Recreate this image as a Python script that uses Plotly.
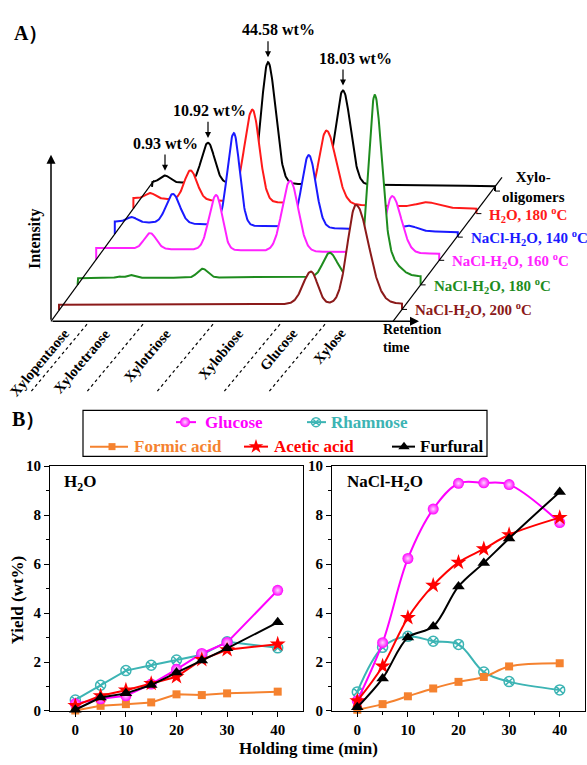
import numpy as np
import plotly.graph_objects as go

# ---------------- Panel A data: HPLC records (back -> front) ----------------
A_SAMPLES = ["Xylo-<br>oligomers",
             "H<sub>2</sub>O, 180 <sup>o</sup>C",
             "NaCl-H<sub>2</sub>O, 140 <sup>o</sup>C",
             "NaCl-H<sub>2</sub>O, 160 <sup>o</sup>C",
             "NaCl-H<sub>2</sub>O, 180 <sup>o</sup>C",
             "NaCl-H<sub>2</sub>O, 200 <sup>o</sup>C"]
A_RT_SPAN = 343                                  # retention span (a.u.)
A_BASE_DRIFT = [-4, -11, -11, -6, 2, 1]          # baseline change over the record
A_PEAK_RT = [[13, 56, 116, 191],
             [17, 57, 119, 193, 294],
             [17, 58, 119, 194, 294],
             [54, 120, 194, 296],
             [41, 53, 125, 252, 297, 312],
             [252, 297]]
A_PEAK_H = [[7, 41, 124, 96],
            [5.5, 30, 94, 75, 5],
            [5, 30, 94, 74, 5],
            [16, 56, 72, 58],
            [1.5, 3, 9, 24.5, 180, 16],
            [33, 101]]
A_PEAK_WL = [[5, 6.5, 6.6, 7.5],
             [5, 6, 8, 7.5, 10],
             [5, 6.7, 6.3, 7, 7],
             [6, 7, 8, 7],
             [3, 4, 5, 6.5, 6.5, 10],
             [8, 8.5]]
A_PEAK_WR = [[5, 6.5, 7.5, 7.5],
             [5, 6.5, 7, 9.5, 10],
             [5, 6.9, 5.8, 7, 8],
             [6, 6, 8, 9],
             [3, 4, 5, 7.5, 7, 10],
             [6.5, 12.5]]
A_WT_LABELS = ["0.93 wt%", "10.92 wt%", "44.58 wt%", "18.03 wt%"]   # peaks of xylo-oligomers
A_COMPOUNDS = ["Xylopentaose", "Xylotetraose", "Xylotriose", "Xylobiose", "Glucose", "Xylose"]

# ---------------- Panel B data ----------------
B_TIME = [0, 5, 10, 15, 20, 25, 30, 40]
B_SERIES = ["Glucose", "Rhamnose", "Formic acid", "Acetic acid", "Furfural"]
H2O_GLUCOSE = [0.3, 0.5, 0.62, 1.1, 1.7, 2.35, 2.8, 4.93]
H2O_RHAMNOSE = [0.45, 1.05, 1.65, 1.87, 2.08, 2.3, 2.83, 2.58]
H2O_FORMIC = [0.02, 0.21, 0.28, 0.35, 0.68, 0.65, 0.72, 0.79]
H2O_ACETIC = [0.22, 0.62, 0.85, 1.12, 1.4, 2.1, 2.5, 2.73]
H2O_FURFURAL = [0.05, 0.55, 0.72, 1.06, 1.57, 2.06, 2.56, 3.62]
NACL_GLUCOSE = [0.42, 2.79, 6.23, 8.25, 9.3, 9.32, 9.25, 7.7]
NACL_RHAMNOSE = [0.78, 2.6, 3.05, 2.85, 2.72, 1.59, 1.2, 0.86]
NACL_FORMIC = [0.05, 0.28, 0.6, 0.92, 1.19, 1.39, 1.82, 1.95]
NACL_ACETIC = [0.41, 1.83, 3.81, 5.13, 6.07, 6.62, 7.2, 7.9]
NACL_FURFURAL = [0.15, 1.33, 3.0, 3.45, 5.09, 6.05, 7.05, 8.95]

# ---------------- styles / layout constants ----------------
W, H = 587, 765
SERIF = "Liberation Serif, Times New Roman, serif"
A_COLORS = ["#000000", "#ff1a1a", "#1a1aff", "#ff22ff", "#1e8c1e", "#8b1a1a"]
A_X0 = [152 - 18.6 * k for k in range(6)]
A_Y0 = [178, 194, 218, 245, 276, 303]
AXIS_Y = 320
B_COLORS = {"Glucose": "#ff00ff", "Rhamnose": "#3cb4b4", "Formic acid": "#f5822f",
            "Acetic acid": "#ff0000", "Furfural": "#000000"}
B_SYMBOLS = {"Glucose": "circle", "Rhamnose": "circle-x-open", "Formic acid": "square",
             "Acetic acid": "star", "Furfural": "triangle-up"}
B_SIZES = {"Glucose": 11, "Rhamnose": 10, "Formic acid": 8, "Acetic acid": 12, "Furfural": 11}


def bold(size, color="black"):
    return dict(family=SERIF, size=size, color=color, weight="bold")


def signal(k, r):
    r = np.asarray(r, dtype=float)
    out = A_BASE_DRIFT[k] * r / A_RT_SPAN
    for c, h, wl, wr in zip(A_PEAK_RT[k], A_PEAK_H[k], A_PEAK_WL[k], A_PEAK_WR[k]):
        w = np.where(r < c, wl, wr)
        out = out + h * np.exp(-0.5 * ((r - c) / w) ** 2)
    return out


def ldiag(x):
    return AXIS_Y - (x - 51) * 144 / 103


def rdiag(x):
    return AXIS_Y - (x - 393) * 147 / 109


fig = go.Figure()
shapes = []
ann = []

# ---------------- Panel A ----------------
rt = np.arange(0, A_RT_SPAN + 0.25, 0.5)
ends = []
for k in range(6):
    xs = A_X0[k] + rt
    ys = A_Y0[k] - signal(k, rt)
    y_start = max(ldiag(xs[0]), ys[0] + 5)
    y_end = max(rdiag(xs[-1]), ys[-1] + 5)
    ends.append((xs[-1], y_end))
    px = np.concatenate([[xs[0]], xs, [xs[-1]]])
    py = np.concatenate([[y_start], ys, [y_end]])
    fig.add_trace(go.Scatter(x=np.concatenate([px, [xs[-1], xs[0]]]),
                             y=np.concatenate([py, [AXIS_Y, AXIS_Y]]),
                             fill="toself", fillcolor="white", mode="lines",
                             line=dict(width=0), hoverinfo="skip", showlegend=False,
                             xaxis="x", yaxis="y"))
    fig.add_trace(go.Scatter(x=px, y=py, mode="lines",
                             line=dict(color=A_COLORS[k], width=2),
                             hoverinfo="skip", showlegend=False, xaxis="x", yaxis="y"))

# axes of panel A
shapes.append(dict(type="line", xref="x", yref="y", x0=51, y0=AXIS_Y, x1=154, y1=176,
                   line=dict(color="black", width=1.2), layer="above"))
shapes.append(dict(type="line", xref="x", yref="y", x0=393, y0=AXIS_Y, x1=502, y1=173,
                   line=dict(color="black", width=1.2), layer="above"))
for (xe, ye) in ends:
    shapes.append(dict(type="line", xref="x", yref="y", x0=xe, y0=ye, x1=xe + 5, y1=ye,
                       line=dict(color="black", width=1), layer="above"))
ann.append(dict(xref="x", yref="y", axref="x", ayref="y", x=51, y=150, ax=51, ay=AXIS_Y,
                text="", showarrow=True, arrowhead=2, arrowsize=1.2, arrowwidth=1.5,
                arrowcolor="black", standoff=0, startstandoff=0))
ann.append(dict(xref="x", yref="y", axref="x", ayref="y", x=419, y=AXIS_Y, ax=51, ay=AXIS_Y,
                text="", showarrow=True, arrowhead=2, arrowsize=1.2, arrowwidth=1.5,
                arrowcolor="black", standoff=0, startstandoff=0))
ann.append(dict(xref="x", yref="y", x=35, y=236, text="Intensity", textangle=-90,
                showarrow=False, font=bold(16)))
ann.append(dict(xref="x", yref="y", x=381, y=338, text="Retention<br>time",
                xanchor="left", yanchor="middle", align="left", showarrow=False,
                font=bold(14)))

# dashed separators and compound names
SEP_X = [87, 143, 213, 280, 325]
for sx in SEP_X:
    shapes.append(dict(type="line", xref="x", yref="y", x0=sx, y0=AXIS_Y + 3, x1=sx - 57,
                       y1=AXIS_Y + 73, line=dict(color="black", width=1.2, dash="3px,3px")))
COMP_X = [76, 116, 177, 249, 304, 352]
for name, cx in zip(A_COMPOUNDS, COMP_X):
    ann.append(dict(xref="x", yref="y", x=cx, y=AXIS_Y + 1, text=name, textangle=-50,
                    xanchor="right", yanchor="top", showarrow=False, font=bold(14.5)))

# sample labels
for k, name in enumerate(A_SAMPLES):
    xe, ye = ends[k]
    if k == 0:
        ann.append(dict(xref="x", yref="y", x=xe + 38, y=183, text=name, align="center",
                        xanchor="center", yanchor="middle", showarrow=False, font=bold(15)))
    else:
        ann.append(dict(xref="x", yref="y", x=xe + 11, y=ye + 1, text=name,
                        xanchor="left", yanchor="middle", showarrow=False,
                        font=bold(15, A_COLORS[k])))

# wt% labels on the xylo-oligomer peaks
WT_DX = [0, 1, 10, 12]
for j, lab in enumerate(A_WT_LABELS):
    c = A_PEAK_RT[0][j]
    xp = A_X0[0] + c
    yp = A_Y0[0] - float(signal(0, [c])[0])
    tip = yp - 5
    tail = tip - 18
    ann.append(dict(xref="x", yref="y", axref="x", ayref="y", x=xp, y=tip, ax=xp, ay=tail,
                    text="", showarrow=True, arrowhead=2, arrowsize=1, arrowwidth=1.2,
                    arrowcolor="black", standoff=0, startstandoff=0))
    ann.append(dict(xref="x", yref="y", x=xp + WT_DX[j], y=tail - 10, text=lab,
                    showarrow=False, font=bold(16)))

ann.append(dict(xref="x", yref="y", x=12, y=26, text="A）", xanchor="left",
                showarrow=False, font=bold(20)))
ann.append(dict(xref="x", yref="y", x=10, y=420, text="B）", xanchor="left",
                showarrow=False, font=bold(20)))

# ---------------- legend of panel B (drawn by hand) ----------------
shapes.append(dict(type="rect", xref="x", yref="y", x0=83, y0=411, x1=487, y1=458,
                   line=dict(color="black", width=1.2)))
LEG = [("Glucose", 176, 196, 185, 423, 203),
       ("Rhamnose", 307, 326, 316, 423, 329),
       ("Formic acid", 90, 128, 112, 448, 132),
       ("Acetic acid", 244, 268, 256, 448, 272),
       ("Furfural", 392, 415, 404, 448, 418)]
for name, l0, l1, mx, ly, tx in LEG:
    fig.add_trace(go.Scatter(x=[l0, l1], y=[ly, ly], mode="lines",
                             line=dict(color=B_COLORS[name], width=2),
                             hoverinfo="skip", showlegend=False, xaxis="x", yaxis="y"))
    mk = dict(symbol=B_SYMBOLS[name], size=B_SIZES[name] - 1, color=B_COLORS[name],
              line=dict(color=B_COLORS[name], width=1.5 if name == "Rhamnose" else 0))
    if name == "Glucose":
        mk["gradient"] = dict(type="radial", color="#ffd6ff")
    fig.add_trace(go.Scatter(x=[mx], y=[ly], mode="markers", marker=mk,
                             hoverinfo="skip", showlegend=False, xaxis="x", yaxis="y"))
    ann.append(dict(xref="x", yref="y", x=tx, y=ly, text=name, xanchor="left",
                    yanchor="middle", showarrow=False, font=bold(17, B_COLORS[name])))

# ---------------- Panel B plots ----------------
PANELS = [("x2", "y2", "linear", {"Glucose": H2O_GLUCOSE, "Rhamnose": H2O_RHAMNOSE,
                                   "Formic acid": H2O_FORMIC, "Acetic acid": H2O_ACETIC,
                                   "Furfural": H2O_FURFURAL}),
          ("x3", "y3", "spline", {"Glucose": NACL_GLUCOSE, "Rhamnose": NACL_RHAMNOSE,
                                   "Formic acid": NACL_FORMIC, "Acetic acid": NACL_ACETIC,
                                   "Furfural": NACL_FURFURAL})]
ORDER = ["Rhamnose", "Formic acid", "Glucose", "Acetic acid", "Furfural"]
for xa, ya, shape, data in PANELS:
    for name in ORDER:
        mk = dict(symbol=B_SYMBOLS[name], size=B_SIZES[name], color=B_COLORS[name],
                  line=dict(color=B_COLORS[name], width=1.5 if name == "Rhamnose" else 0))
        if name == "Glucose":
            mk["gradient"] = dict(type="radial", color="#ffd6ff")
        fig.add_trace(go.Scatter(x=B_TIME, y=data[name], mode="lines+markers",
                                 line=dict(color=B_COLORS[name], width=2, shape=shape,
                                           smoothing=1.0),
                                 marker=mk, cliponaxis=False, showlegend=False,
                                 xaxis=xa, yaxis=ya))

tickfont = bold(15)
xcommon = dict(range=[-5, 45], tickvals=[0, 10, 20, 30, 40], ticks="outside", ticklen=5,
               tickwidth=1.2, tickcolor="black",
               minor=dict(tickvals=[5, 15, 25, 35], ticks="outside", ticklen=3,
                          tickwidth=1, tickcolor="black"),
               showline=True, linecolor="black", linewidth=1.2, mirror=True,
               showgrid=False, zeroline=False, tickfont=tickfont, fixedrange=True)
ycommon = dict(range=[0, 10], tickvals=[0, 2, 4, 6, 8, 10], ticks="outside", ticklen=5,
               tickwidth=1.2, tickcolor="black",
               minor=dict(tickvals=[1, 3, 5, 7, 9], ticks="outside", ticklen=3,
                          tickwidth=1, tickcolor="black"),
               showline=True, linecolor="black", linewidth=1.2, mirror=True,
               showgrid=False, zeroline=False, tickfont=tickfont, fixedrange=True)
YDOM = [1 - 718 / H, 1 - 468 / H]

ann.append(dict(xref="x", yref="y", x=62, y=485, text="H<sub>2</sub>O", xanchor="left",
                showarrow=False, font=bold(17)))
ann.append(dict(xref="x", yref="y", x=345, y=485, text="NaCl-H<sub>2</sub>O",
                xanchor="left", showarrow=False, font=bold(17)))
ann.append(dict(xref="x", yref="y", x=17, y=605, text="Yield (wt%)", textangle=-90,
                showarrow=False, font=bold(17)))
ann.append(dict(xref="x", yref="y", x=308, y=756, text="Holding time (min)",
                showarrow=False, font=bold(17)))

fig.update_layout(
    width=W, height=H, autosize=False,
    margin=dict(l=0, r=0, t=0, b=0),
    paper_bgcolor="white", plot_bgcolor="rgba(0,0,0,0)",
    showlegend=False,
    xaxis=dict(domain=[0, 1], range=[0, W], visible=False, fixedrange=True),
    yaxis=dict(domain=[0, 1], range=[H, 0], visible=False, fixedrange=True),
    xaxis2=dict(domain=[50 / W, 303 / W], anchor="y2", **xcommon),
    yaxis2=dict(domain=YDOM, anchor="x2", **ycommon),
    xaxis3=dict(domain=[332 / W, 585 / W], anchor="y3", **xcommon),
    yaxis3=dict(domain=YDOM, anchor="x3", **ycommon),
    shapes=shapes,
    annotations=ann,
)

fig.write_html("out.html", config={"displayModeBar": False},
               post_script="document.body.style.margin='0px';document.body.style.overflow='hidden';")
